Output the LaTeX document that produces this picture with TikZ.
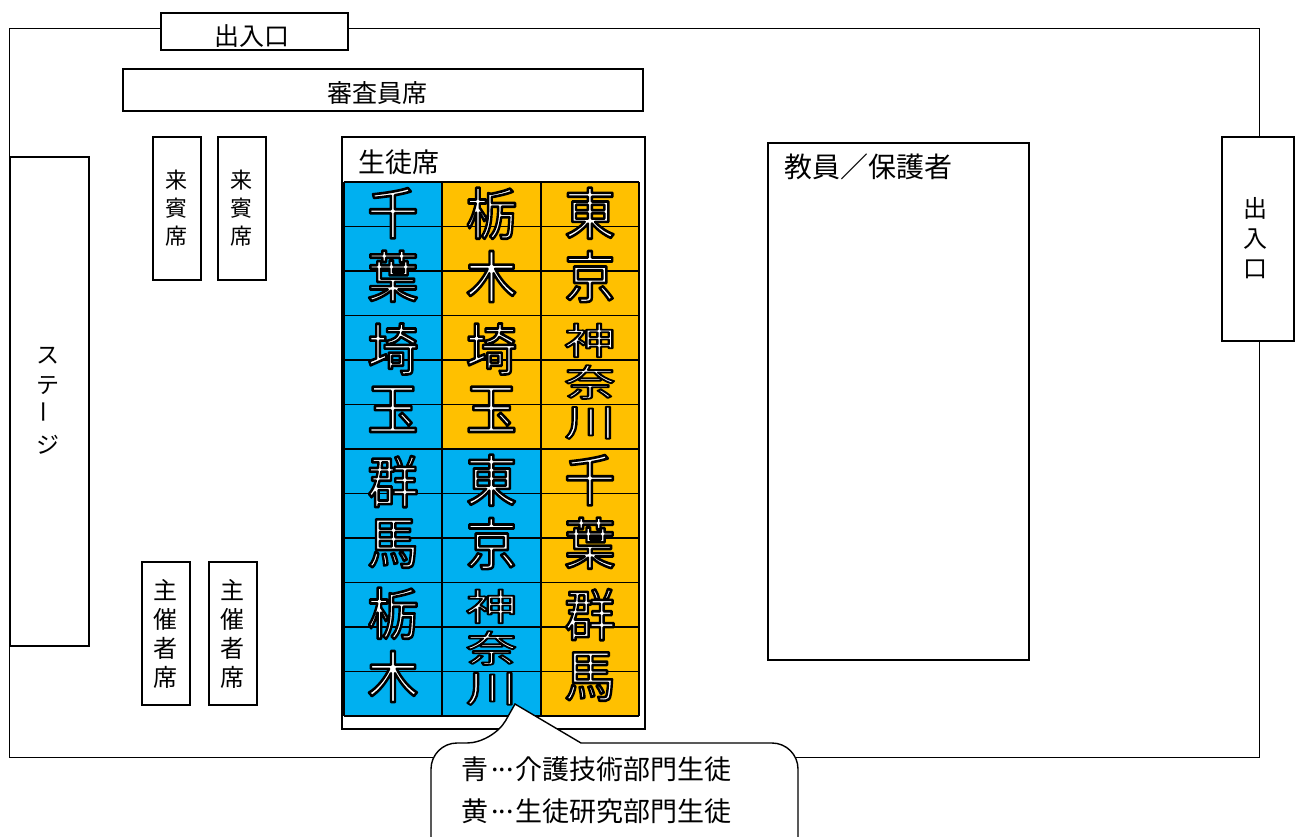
\documentclass[tikz,border=0pt]{standalone}
\usepackage{fontspec}
\setmainfont{Noto Sans CJK JP}
\usepackage{graphicx}
\definecolor{seatblue}{HTML}{00B0F0}
\definecolor{seatorange}{HTML}{FFC000}
\tikzset{
  box/.style={draw=black, line width=1.6pt, fill=white, inner sep=0pt, anchor=north west},
  roomline/.style={draw=black, line width=1.4pt},
  gridline/.style={draw=black, line width=1.8pt},
  lbl/.style={inner sep=0pt, align=center, text=black},
  bigtxt/.style={inner sep=0pt, text=white},
}
% full-width centred ellipsis
\newcommand\middots{\makebox[1em][s]{\hspace{0.12em}\raisebox{0.32em}{.}\hfill\raisebox{0.32em}{.}\hfill\raisebox{0.32em}{.}\hspace{0.12em}}}
% outlined big characters (fill white, stroke black): #1 name, #2 position, #3 yscale, #4 baselineskip, #5 text
\newcommand\outlinedtext[5]{%
  \node[bigtxt] (#1) at (#2)
      {\special{pdf:code q 0 G 2 Tr 2.4 w 1 j}\scalebox{1}[#3]{\fontsize{51}{#4}\selectfont\begin{tabular}{@{}c@{}}#5\end{tabular}}\special{pdf:code Q}};%
}
\begin{document}
\begin{tikzpicture}[x=1pt,y=-1pt]
\clip (0,0) rectangle (1298,836);
\fill[white] (0,0) rectangle (1298,836);

% room
\node[roomline, inner sep=0pt, minimum width=1250pt, minimum height=729pt, anchor=north west] (room) at (9,28) {};

% top entrance
\node[box, minimum width=187pt, minimum height=37pt] (doortop) at (160,12) {};
\node[lbl, font=\fontsize{25}{28}\selectfont] (doortoptxt) at (252,36) {出入口};

% judges
\node[box, minimum width=520pt, minimum height=42pt] (judge) at (122,68) {};
\node[lbl, font=\fontsize{25}{28}\selectfont] (judgetxt) at (377,93) {審査員席};

% stage
\node[box, minimum width=79pt, minimum height=489pt] (stage) at (9,156) {};
\node[lbl, font=\fontsize{23}{30}\selectfont] (stagetxt) at (48,401) {ス\\テ\\\rotatebox{90}{ー}\\ジ};

% guest seats
\node[box, minimum width=48pt, minimum height=143pt] (guestA) at (152,136) {};
\node[box, minimum width=48pt, minimum height=143pt] (guestB) at (217,136) {};
\node[lbl, font=\fontsize{22}{28}\selectfont] (guestAtxt) at (176,208) {来\\賓\\席};
\node[lbl, font=\fontsize{22}{28}\selectfont] (guestBtxt) at (241,208) {来\\賓\\席};

% organizer seats
\node[box, minimum width=48pt, minimum height=143pt] (orgA) at (141,561) {};
\node[box, minimum width=48pt, minimum height=143pt] (orgB) at (208,561) {};
\node[lbl, font=\fontsize{24}{29}\selectfont] (orgAtxt) at (165,634) {主\\催\\者\\席};
\node[lbl, font=\fontsize{24}{29}\selectfont] (orgBtxt) at (232,634) {主\\催\\者\\席};

% right entrance
\node[box, minimum width=72pt, minimum height=204pt] (doorright) at (1221,136) {};
\node[lbl, font=\fontsize{24}{30}\selectfont] (doorrighttxt) at (1255,238) {出\\入\\口};

% teachers / parents
\node[box, minimum width=261pt, minimum height=517pt] (teach) at (767,142) {};
\node[lbl, font=\fontsize{28}{30}\selectfont, anchor=west] (teachtxt) at (784,167) {教員／保護者};

% student seats
\node[box, minimum width=303pt, minimum height=592pt] (stud) at (341,136) {};
\node[lbl, font=\fontsize{27}{30}\selectfont, anchor=west] (studtxt) at (358,162) {生徒席};

% grid fills
\fill[seatblue]   (344,182) rectangle (442,716);
\fill[seatorange] (442,182) rectangle (639,450);
\fill[seatblue]   (442,450) rectangle (541,716);
\fill[seatorange] (541,450) rectangle (639,716);
\foreach \i in {0,...,12}
  \draw[gridline] (344,{182+\i*44.5}) -- (639,{182+\i*44.5});
\foreach \x in {344,442,541,639}
  \draw[gridline] (\x,182) -- (\x,716);

% big names
\outlinedtext{c11}{393,251}{1.09}{51}{千\\葉}
\outlinedtext{c12}{491.5,251}{1.09}{51}{栃\\木}
\outlinedtext{c13}{590,251}{1.09}{51}{東\\京}
\outlinedtext{c21}{393,385}{1.09}{51}{埼\\玉}
\outlinedtext{c22}{491.5,385}{1.09}{51}{埼\\玉}
\outlinedtext{c23}{590,385}{0.72}{50}{神\\奈\\川}
\outlinedtext{c31}{393,518}{1.09}{51}{群\\馬}
\outlinedtext{c32}{491.5,518}{1.09}{51}{東\\京}
\outlinedtext{c33}{590,518}{1.09}{51}{千\\葉}
\outlinedtext{c41}{393,651}{1.09}{51}{栃\\木}
\outlinedtext{c42}{491.5,651}{0.72}{50}{神\\奈\\川}
\outlinedtext{c43}{590,651}{1.09}{51}{群\\馬}

% callout
\coordinate (tip) at (515,704);
\draw[line width=1.4pt, fill=white]
  (581,743) [rounded corners=26] -- (798,743) -- (798,870) -- (431,870) -- (431,743) -- (493,743)
  [sharp corners] -- (tip) -- cycle;
\node[lbl, font=\fontsize{27}{42}\selectfont, align=left, anchor=north west] (legend) at (461,757)
  {青\middots 介護技術部門生徒\\黄\middots 生徒研究部門生徒};
\end{tikzpicture}
\end{document}
